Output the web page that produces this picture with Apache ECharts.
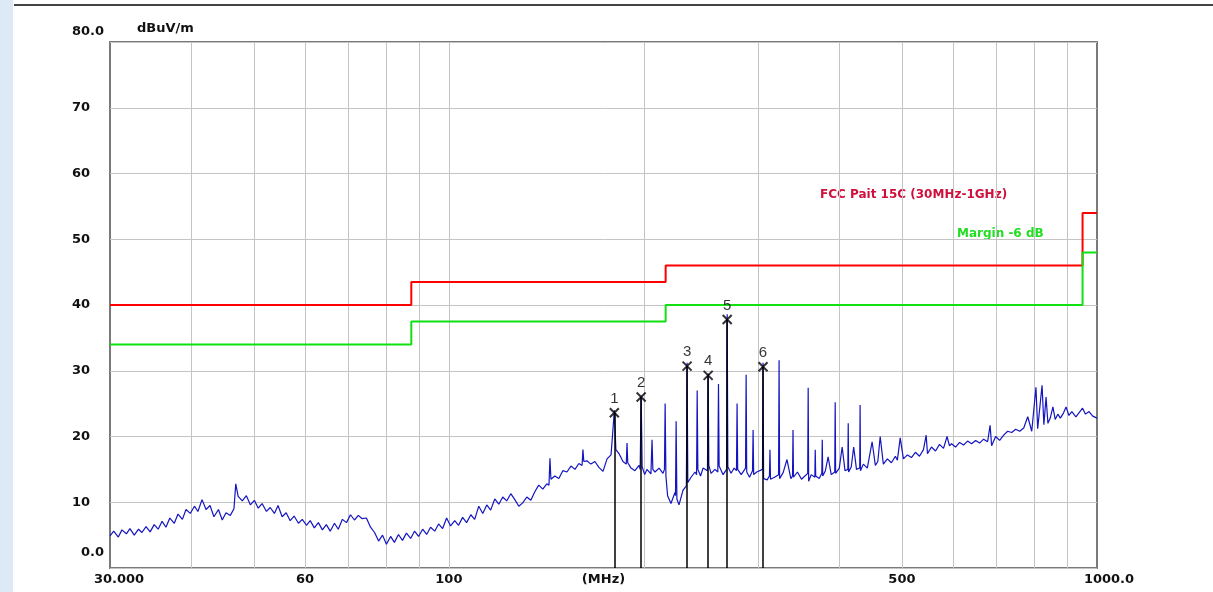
<!DOCTYPE html>
<html>
<head>
<meta charset="utf-8">
<script src="https://cdn.jsdelivr.net/npm/echarts@6/dist/echarts.min.js"></script>
<style>
  html, body { margin: 0; padding: 0; background: #ffffff; }
  #chart { width: 1213px; height: 592px; }
</style>
</head>
<body>
<div id="chart"></div>
<script>
var chart = echarts.init(document.getElementById('chart'));

// eje X logarítmico (MHz)
var gridFreqs = [40, 50, 60, 70, 80, 90, 100, 200, 300, 400, 500, 600, 700, 800, 900];
var labelFreqs = [30, 60, 100, 500, 1000];
var labelTexts = ['30.000', '60', '100', '500', '1000.0'];

// límite FCC y margen -6 dB
var limitFreq = [30, 87.5, 87.5, 216, 216, 950, 950, 1000];
var limitLevel = [40, 40, 43.5, 43.5, 46, 46, 54, 54];
var marginLevel = [34, 34, 37.5, 37.5, 40, 40, 48, 48];

// marcadores de pico
var markerFreq = [180.0, 198.0, 233.1, 251.2, 268.8, 305.3];
var markerLevel = [23.6, 26.0, 30.7, 29.3, 37.8, 30.6];
var markerNames = ['1', '2', '3', '4', '5', '6'];

// barrido medido [MHz, dBuV/m]
var trace = [
  [30, 4.9], [30.4, 5.6], [30.9, 4.7], [31.3, 5.8], [31.8, 5.2], [32.2, 6.0], [32.7, 5.0], [33.2, 5.9],
  [33.6, 5.4], [34.1, 6.3], [34.6, 5.5], [35.1, 6.6], [35.6, 5.9], [36.1, 7.1], [36.6, 6.2], [37.1, 7.6],
  [37.7, 6.8], [38.2, 8.2], [38.8, 7.4], [39.3, 8.9], [39.9, 8.3], [40.5, 9.4], [41.0, 8.6], [41.6, 10.4],
  [42.2, 8.9], [42.8, 9.5], [43.4, 7.8], [44.1, 8.9], [44.7, 7.3], [45.3, 8.4], [46.0, 8.0], [46.6, 9.0],
  [46.9, 12.8], [47.3, 10.9], [48.0, 10.2], [48.7, 11.0], [49.4, 9.6], [50.1, 10.3], [50.8, 9.1], [51.5, 9.8],
  [52.3, 8.6], [53.0, 9.2], [53.8, 8.3], [54.5, 9.5], [55.3, 7.8], [56.1, 8.4], [56.9, 7.2], [57.7, 7.9],
  [58.6, 6.8], [59.4, 7.4], [60.3, 6.5], [61.1, 7.2], [62.0, 6.1], [62.9, 6.9], [63.8, 5.8], [64.7, 6.6],
  [65.6, 5.6], [66.6, 6.8], [67.5, 5.9], [68.5, 7.4], [69.5, 6.9], [70.5, 8.1], [71.5, 7.3], [72.5, 8.0],
  [73.5, 7.5], [74.6, 7.6], [75.7, 6.2], [76.8, 5.4], [77.9, 4.1], [79.0, 5.0], [80.1, 3.6], [81.3, 4.8],
  [82.4, 3.9], [83.6, 5.1], [84.8, 4.2], [86.0, 5.3], [87.3, 4.5], [88.5, 5.6], [89.8, 4.8], [91.1, 5.9],
  [92.4, 5.1], [93.7, 6.2], [95.1, 5.6], [96.4, 6.7], [97.8, 6.0], [99.2, 7.6], [100.6, 6.4], [102.1, 7.2],
  [103.5, 6.5], [105.0, 7.7], [106.5, 6.9], [108.1, 8.1], [109.6, 7.4], [111.2, 9.4], [112.8, 8.3], [114.4, 9.6],
  [116.0, 8.8], [117.7, 10.5], [119.4, 9.7], [121.1, 10.8], [122.8, 10.2], [124.6, 11.3], [126.4, 10.4], [128.2, 9.4],
  [130.0, 9.9], [131.9, 10.8], [133.8, 10.3], [135.7, 11.6], [137.6, 12.6], [139.6, 12.0], [141.6, 12.8], [142.7, 12.6],
  [143.2, 16.7], [143.7, 13.5], [145.7, 14.0], [147.8, 13.6], [149.9, 14.8], [152.1, 14.6], [154.3, 15.5], [156.5, 15.0],
  [158.7, 15.9], [160.5, 15.6], [161.0, 18.0], [161.5, 16.2], [163.3, 16.3], [165.6, 15.8], [168.0, 16.2], [170.4, 15.3],
  [172.9, 14.7], [175.4, 16.6], [177.9, 17.2], [178.8, 20.0], [180.0, 24.0], [181.0, 18.0], [183.0, 17.4], [185.6, 16.2],
  [187.8, 15.8], [188.3, 19.0], [188.8, 16.0], [191.0, 15.2], [193.7, 14.8], [196.5, 15.6], [197.3, 15.0], [198.0, 26.2],
  [198.7, 15.4], [200.5, 14.2], [202.1, 15.0], [205.0, 14.3], [205.3, 14.5], [205.8, 19.5], [206.4, 15.0], [208.0, 14.6],
  [211.0, 15.2], [214.0, 14.4], [215.1, 15.0], [215.6, 25.0], [216.2, 14.0], [217.5, 11.0], [220.1, 9.8], [223.3, 11.5],
  [223.7, 11.0], [224.2, 22.3], [224.8, 10.5], [226.5, 9.6], [229.7, 11.8], [232.5, 12.5], [233.1, 31.2], [233.7, 13.0],
  [236.4, 13.8], [239.7, 14.6], [241.1, 14.2], [241.6, 27.0], [242.2, 15.0], [244.5, 14.0], [246.7, 15.2], [250.6, 14.8],
  [251.2, 29.6], [251.8, 15.6], [253.8, 14.4], [257.4, 15.0], [260.0, 14.6], [260.6, 28.0], [261.2, 15.5], [264.9, 14.2],
  [268.2, 15.0], [268.8, 38.6], [269.4, 15.4], [272.5, 14.4], [275.5, 15.2], [277.8, 14.8], [278.4, 25.0], [279.0, 15.0],
  [282.5, 14.2], [286.9, 15.2], [287.5, 29.4], [288.1, 14.6], [291.0, 13.8], [294.1, 14.8], [294.7, 21.0], [295.3, 14.2],
  [298.5, 14.6], [304.7, 15.0], [305.3, 31.2], [305.9, 13.6], [309.8, 13.4], [312.3, 14.0], [312.9, 18.0], [313.5, 13.5],
  [318.0, 13.8], [322.6, 14.2], [323.2, 31.6], [323.8, 13.6], [327.9, 14.5], [332.4, 16.5], [337.0, 13.6], [339.0, 14.0],
  [339.6, 21.0], [340.2, 13.8], [345.0, 14.6], [350.0, 13.5], [357.8, 14.4], [358.4, 27.4], [359.0, 13.2], [362.3, 14.2],
  [367.0, 13.8], [367.5, 18.0], [368.1, 14.0], [372.8, 13.6], [376.2, 14.4], [376.8, 19.5], [377.4, 14.0], [381.0, 14.8],
  [384.7, 16.9], [389.0, 14.2], [393.9, 14.6], [394.5, 25.2], [395.1, 14.4], [400.3, 15.2], [404.4, 18.4], [408.5, 14.8],
  [412.6, 15.0], [413.2, 22.0], [413.8, 14.6], [417.7, 15.4], [421.3, 18.4], [425.5, 15.0], [430.4, 15.2], [431.0, 24.8],
  [431.6, 14.8], [436.0, 15.8], [442.2, 15.2], [449.8, 19.2], [455.0, 15.6], [459.0, 16.2], [462.9, 20.0], [468.1, 15.8],
  [474.8, 16.6], [481.7, 16.0], [488.6, 17.0], [492.0, 16.4], [497.0, 19.8], [502.7, 16.6], [509.9, 17.2], [517.2, 16.8],
  [524.6, 17.6], [532.2, 17.0], [539.8, 18.0], [545.0, 20.2], [547.6, 17.4], [555.4, 18.4], [563.4, 17.8], [571.5, 18.8],
  [579.7, 18.2], [587.0, 20.0], [592.0, 18.6], [596.4, 18.9], [605.0, 18.4], [613.7, 19.1], [622.5, 18.7], [631.4, 19.3],
  [640.5, 18.9], [649.7, 19.4], [659.0, 19.0], [668.4, 19.6], [678.0, 19.2], [684.0, 21.7], [687.7, 18.6], [697.6, 20.0],
  [707.6, 19.4], [717.8, 20.2], [728.1, 20.8], [738.5, 20.6], [749.1, 21.1], [759.9, 20.8], [770.8, 21.3], [781.9, 23.0],
  [793.1, 20.8], [805.0, 27.5], [810.0, 21.2], [822.7, 27.8], [828.0, 21.8], [834.5, 26.0], [840.0, 22.0], [847.0, 22.8],
  [855.0, 24.5], [862.0, 22.6], [870.0, 23.4], [878.0, 22.8], [888.0, 23.6], [896.0, 24.5], [905.0, 23.2], [914.6, 23.8],
  [927.7, 23.0], [950.0, 24.3], [960.0, 23.4], [972.0, 23.8], [985.0, 23.1], [1000, 22.8]
];

var limitData = limitFreq.map(function (f, i) { return [f, limitLevel[i]]; });
var marginData = limitFreq.map(function (f, i) { return [f, marginLevel[i]]; });
var markerData = markerFreq.map(function (f, i) { return [f, markerLevel[i]]; });
var markerLines = markerFreq.map(function (f, i) {
  return [{ coord: [f, 0] }, { coord: [f, markerLevel[i]] }];
});

var font = 'DejaVu Sans';

var option = {
  animation: false,
  backgroundColor: '#ffffff',
  grid: {
    left: 110, right: 116, top: 42, bottom: 24,
    outerBoundsMode: 'none', containLabel: false,
    show: true, borderColor: '#7a7a7a', borderWidth: 2, backgroundColor: '#ffffff'
  },
  xAxis: {
    type: 'log', logBase: 10, min: 30, max: 1000,
    name: '(MHz)', nameLocation: 'middle', nameGap: 5, nameMoveOverlap: false,
    nameTextStyle: { fontFamily: font, fontWeight: 'bold', fontSize: 13, color: '#111', verticalAlign: 'top' },
    axisLine: { show: false },
    axisTick: { show: false, customValues: gridFreqs },
    splitLine: { show: true, lineStyle: { color: '#c4c4c4', width: 1 } },
    axisLabel: {
      customValues: labelFreqs, margin: 5,
      fontFamily: font, fontWeight: 'bold', fontSize: 13, color: '#111',
      formatter: function (v) {
        var i = labelFreqs.indexOf(Math.round(v));
        if (i === 0) return '{first|' + labelTexts[i] + '}';
        if (i === labelFreqs.length - 1) return '{last|' + labelTexts[i] + '}';
        return i >= 0 ? labelTexts[i] : '';
      },
      rich: {
        first: { fontFamily: font, fontWeight: 'bold', fontSize: 13, color: '#111', padding: [0, 0, 0, 18] },
        last: { fontFamily: font, fontWeight: 'bold', fontSize: 13, color: '#111', padding: [0, 0, 0, 24] }
      }
    }
  },
  yAxis: {
    type: 'value', min: 0, max: 80, interval: 10,
    name: 'dBuV/m', nameLocation: 'end', nameGap: 7,
    nameTextStyle: { fontFamily: font, fontWeight: 'bold', fontSize: 13, color: '#111', align: 'left', padding: [0, 0, 0, 27] },
    axisLine: { show: false },
    axisTick: { show: false },
    splitLine: { show: true, lineStyle: { color: '#c4c4c4', width: 1 } },
    axisLabel: {
      align: 'left', margin: 38,
      fontFamily: font, fontWeight: 'bold', fontSize: 13, color: '#111',
      formatter: function (v) {
        if (v === 80) return '{top|80.0}';
        if (v === 0) return '{bot|0.0}';
        return String(v);
      },
      rich: {
        top: { fontFamily: font, fontWeight: 'bold', fontSize: 13, color: '#111', padding: [0, 0, 20, 0] },
        bot: { fontFamily: font, fontWeight: 'bold', fontSize: 13, color: '#111', padding: [0, 0, 30, 9] }
      }
    }
  },
  graphic: [
    { type: 'rect', left: 0, top: 0, shape: { width: 13, height: 592 }, style: { fill: '#dce9f6' }, silent: true },
    { type: 'line', shape: { x1: 14, y1: 5, x2: 1213, y2: 5 }, style: { stroke: '#444', lineWidth: 2 }, silent: true },
    { type: 'text', left: 820, top: 189, style: { text: 'FCC Pait 15C (30MHz-1GHz)', fill: '#d0103c', font: 'bold 12px "DejaVu Sans"' } },
    { type: 'text', left: 957, top: 228, style: { text: 'Margin -6 dB', fill: '#22dd22', font: 'bold 12px "DejaVu Sans"' } }
  ],
  series: [
    {
      name: 'marker lines', type: 'scatter', data: [], z: 2, silent: true,
      markLine: {
        silent: true, symbol: ['none', 'none'], animation: false,
        label: { show: false },
        lineStyle: { color: '#000', width: 1.5, type: 'solid' },
        data: markerLines
      }
    },
    {
      name: 'FCC Part 15C', type: 'line', data: limitData, z: 3,
      showSymbol: false, lineStyle: { color: '#ff0000', width: 2 }
    },
    {
      name: 'Margin -6 dB', type: 'line', data: marginData, z: 3,
      showSymbol: false, lineStyle: { color: '#11e011', width: 2 }
    },
    {
      name: 'Trace', type: 'line', data: trace, z: 4,
      showSymbol: false, sampling: null,
      lineStyle: { color: '#1414c0', width: 1.2 }
    },
    {
      name: 'Markers', type: 'scatter', data: markerData, z: 5,
      symbol: 'path://M0,0L10,10M10,0L0,10', symbolSize: [9, 9],
      itemStyle: { color: 'transparent', borderColor: '#000', borderWidth: 2 },
      label: {
        show: true, position: 'top', distance: 1,
        fontFamily: 'Liberation Sans', fontSize: 15, color: '#000',
        formatter: function (p) { return markerNames[p.dataIndex]; }
      }
    }
  ]
};

chart.setOption(option);
</script>
</body>
</html>
